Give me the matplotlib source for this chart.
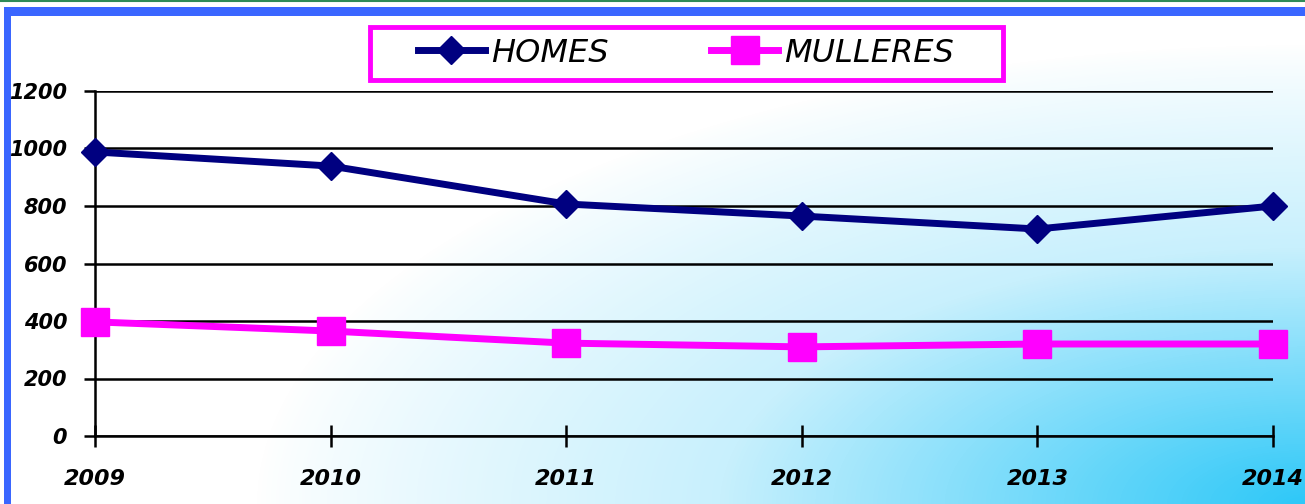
import matplotlib.pyplot as plt
from matplotlib.patches import Rectangle
from matplotlib.colors import LinearSegmentedColormap
import numpy as np

years = ['2009', '2010', '2011', '2012', '2013', '2014']
homes = [988, 939, 807, 765, 720, 800]
mulleres = [397, 365, 323, 310, 320, 320]
yticks = [0, 200, 400, 600, 800, 1000, 1200]

W, H = 1305, 504
fig = plt.figure(figsize=(W / 100, H / 100), dpi=100)

# background: gradient from white to cyan towards bottom-right, blue frame
bg = fig.add_axes([0, 0, 1, 1], zorder=-1)
bg.set_xlim(0, W)
bg.set_ylim(H, 0)
bg.axis('off')
xx, yy = np.meshgrid(np.arange(W), np.arange(H))
d = np.sqrt(((W - xx) / 1050.0) ** 2 + ((H - yy) / 460.0) ** 2)
t = np.clip(1 - d, 0, 1) ** 0.85
cmap = LinearSegmentedColormap.from_list('bg', ['#ffffff', '#c8f0fd', '#2ec8f8'])
bg.imshow(t, cmap=cmap, extent=(0, W, H, 0), aspect='auto', vmin=0, vmax=1)
bg.add_patch(Rectangle((0, 0), W, 7, facecolor='white', edgecolor='none'))
bg.add_patch(Rectangle((0, 0), 4, H, facecolor='white', edgecolor='none'))
bg.plot([0, W], [0.8, 0.8], color='#2e8b57', lw=1.5)
bg.add_patch(Rectangle((4, 7), W, 9, facecolor='#3a66ff', edgecolor='none'))
bg.add_patch(Rectangle((4, 7), 7, H, facecolor='#3a66ff', edgecolor='none'))
# legend box
bg.add_patch(Rectangle((370, 27), 633, 53, facecolor='white',
                       edgecolor='#ff00ff', lw=3.5))

ax = fig.add_axes([95 / W, 1 - 436 / H, (1273 - 95) / W, (436 - 91) / H])
ax.patch.set_alpha(0)

x = np.arange(len(years))
ax.plot(x, homes, color='#000080', lw=5, marker='D', ms=14,
        label='HOMES', clip_on=False, zorder=5)
ax.plot(x, mulleres, color='#ff00ff', lw=5, marker='s', ms=20,
        label='MULLERES', clip_on=False, zorder=5)

ax.set_xlim(0, len(years) - 1)
ax.set_ylim(0, 1200)
ax.set_yticks(yticks)
ax.set_yticklabels([str(v) for v in yticks])
ax.set_xticks(x)
ax.set_xticklabels(years)
ax.grid(axis='y', color='black', lw=1.8)
ax.set_axisbelow(True)
for s in ['top', 'right']:
    ax.spines[s].set_visible(False)
ax.spines['left'].set_linewidth(1.8)
ax.spines['bottom'].set_linewidth(1.8)
ax.tick_params(axis='y', length=8, width=1.8, pad=12)
ax.tick_params(axis='x', direction='inout', length=16, width=1.8, pad=16)
for lab in ax.get_xticklabels():
    lab.set_fontsize(16)
for lab in ax.get_yticklabels():
    lab.set_fontsize(15)
for lab in ax.get_xticklabels() + ax.get_yticklabels():
    lab.set_fontweight('bold')
    lab.set_fontstyle('italic')

leg = ax.legend(loc='center', bbox_to_anchor=(686 / W, 1 - 53 / H),
                bbox_transform=fig.transFigure, ncol=2, frameon=False,
                prop={'size': 23, 'style': 'italic'}, handlelength=2.1,
                handletextpad=0.2, columnspacing=3.2, borderaxespad=0)

fig.savefig('out.png', dpi=100)
